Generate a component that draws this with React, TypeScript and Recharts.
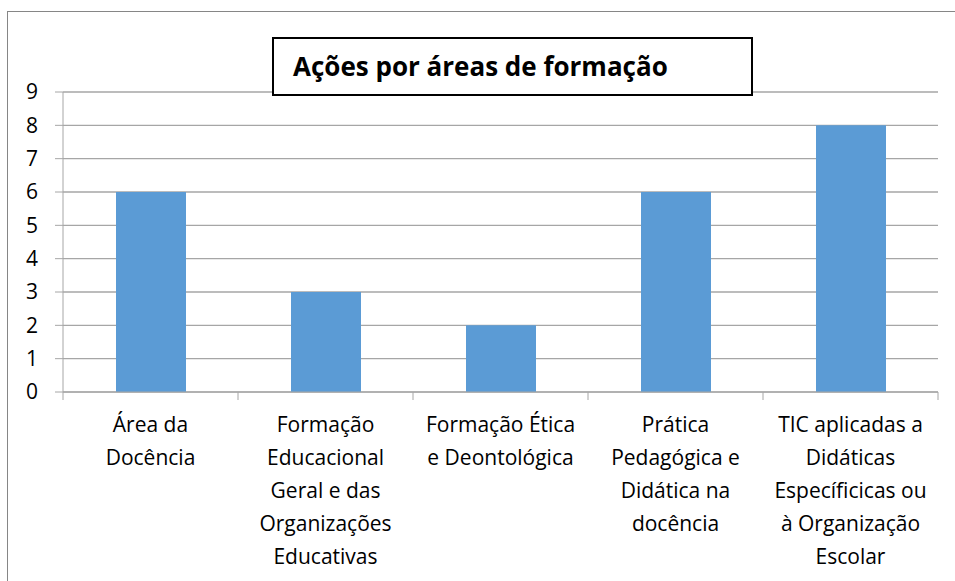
import React from 'react';
import { BarChart, Bar, XAxis, YAxis, CartesianGrid } from 'recharts';

// Categorias (quebras de linha como no original)
const categories = [
  'Área da\nDocência',
  'Formação\nEducacional\nGeral e das\nOrganizações\nEducativas',
  'Formação Ética\ne Deontológica',
  'Prática\nPedagógica e\nDidática na\ndocência',
  'TIC aplicadas a\nDidáticas\nEspecíficicas ou\nà Organização\nEscolar',
];
const acoes = [6, 3, 2, 6, 8];
const yTicks = [0, 1, 2, 3, 4, 5, 6, 7, 8, 9];
const title = 'Ações por áreas de formação';

const data = categories.map((name, i) => ({ name, acoes: acoes[i] }));

const FONT = "'Open Sans', 'Noto Sans', sans-serif";
const GRID = '#a6a6a6';

const CategoryTick = (props: any) => {
  const { x, y, payload, index, visibleTicksCount } = props;
  const half = payload?.offset || 87.5;
  const lines = String(payload.value).split('\n');
  const isLast = index === (visibleTicksCount ?? categories.length) - 1;
  return (
    <g>
      <line x1={x - half} x2={x - half} y1={y} y2={y + 8} stroke={GRID} />
      {isLast && <line x1={x + half} x2={x + half} y1={y} y2={y + 8} stroke={GRID} />}
      <text x={x} y={y + 40} textAnchor="middle" fontFamily={FONT} fontSize={21} fill="#000">
        {lines.map((l, i) => (
          <tspan key={i} x={x} dy={i === 0 ? 0 : 33}>
            {l}
          </tspan>
        ))}
      </text>
    </g>
  );
};

const App: React.FC = () => {
  return (
    <div
      style={{
        position: 'fixed',
        left: 0,
        top: 0,
        width: 955,
        height: 581,
        overflow: 'hidden',
        background: '#fff',
      }}
    >
      {/* moldura do gráfico */}
      <div
        style={{
          position: 'absolute',
          left: 7,
          top: 11,
          width: 1000,
          height: 700,
          border: '1px solid #868686',
        }}
      />
      <div style={{ position: 'absolute', left: 0, top: 0 }}>
        <BarChart
          width={955}
          height={581}
          data={data}
          margin={{ top: 92, right: 17, bottom: 0, left: 0 }}
          barCategoryGap={0}
        >
          <CartesianGrid vertical={false} stroke={GRID} strokeWidth={1.3} />
          <XAxis
            dataKey="name"
            interval={0}
            height={189}
            tickLine={false}
            tickSize={0}
            tickMargin={0}
            axisLine={{ stroke: GRID }}
            tick={<CategoryTick />}
          />
          <YAxis
            width={63}
            domain={[0, 9]}
            ticks={yTicks}
            interval={0}
            tickSize={8}
            tickMargin={17}
            tickLine={{ stroke: GRID }}
            axisLine={{ stroke: GRID }}
            tick={{ fill: '#000', fontSize: 21, fontFamily: FONT }}
          />
          <Bar dataKey="acoes" fill="#5b9bd5" barSize={70} isAnimationActive={false} />
        </BarChart>
      </div>
      {/* caixa do título */}
      <div
        style={{
          position: 'absolute',
          left: 272,
          top: 37,
          width: 481,
          height: 59,
          border: '2px solid #000',
          background: '#fff',
          fontFamily: FONT,
          fontWeight: 700,
          fontSize: 26,
          lineHeight: '55px',
          paddingLeft: 19,
          boxSizing: 'border-box',
          whiteSpace: 'nowrap',
        }}
      >
        {title}
      </div>
    </div>
  );
};

export default App;
